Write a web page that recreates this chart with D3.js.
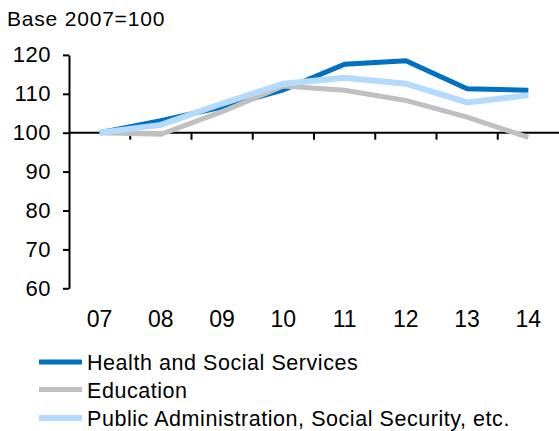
<!DOCTYPE html>
<html><head><meta charset="utf-8">
<script src="https://cdn.jsdelivr.net/npm/d3@7"></script>
<style>body{margin:0;background:#fff}svg{display:block}text{font-family:Arial,"Liberation Sans",sans-serif;fill:#000}</style>
</head><body><svg id="c" width="559" height="431"></svg>
<script>
const categories = ["07","08","09","10","11","12","13","14"];
const health = [100, 103.1, 106.6, 111.0, 117.6, 118.5, 111.3, 110.9];
const education = [100, 99.6, 105.4, 112.0, 110.9, 108.3, 104.0, 98.8];
const publicAdmin = [100, 102.0, 107.5, 112.6, 114.1, 112.6, 107.8, 109.6];
const yTicks = [60, 70, 80, 90, 100, 110, 120];
const seriesNames = ["Health and Social Services", "Education", "Public Administration, Social Security, etc."];
const titleText = "Base 2007=100";

const series = [
  {name: seriesNames[0], values: health, color: "#0070C0", width: 5},
  {name: seriesNames[1], values: education, color: "#C0C0C0", width: 5},
  {name: seriesNames[2], values: publicAdmin, color: "#B4DAFE", width: 6}
];

const svg = d3.select("#c");
const x = d3.scaleBand().domain(categories).range([69, 559]);
const y = d3.scaleLinear().domain([60, 120]).range([288.3, 54.9]);

svg.append("text").attr("x", 7).attr("y", 26).attr("font-size", 21).attr("letter-spacing", 0.8).text(titleText);

// Y axis
const yAxis = d3.axisLeft(y).tickValues(yTicks).tickSize(6).tickPadding(12).tickSizeOuter(0);
const gy = svg.append("g").attr("transform", "translate(69,0)").call(yAxis);
gy.select(".domain").attr("stroke", "#000").attr("stroke-width", 2);
gy.selectAll(".tick line").attr("stroke", "#000").attr("stroke-width", 2);
gy.selectAll(".tick text").attr("font-size", 22).attr("letter-spacing", 0.5)
  .attr("font-family", "Arial, 'Liberation Sans', sans-serif").attr("fill", "#000");

// X axis line at 100 with ticks between categories
const gx = svg.append("g").attr("transform", `translate(0,${y(100)})`);
gx.append("line").attr("x1", 69).attr("x2", 559).attr("stroke", "#000").attr("stroke-width", 2);
const bounds = categories.slice(1).map(c => x(c));
gx.selectAll("line.tk").data(bounds).join("line").attr("class", "tk")
  .attr("x1", d => d).attr("x2", d => d).attr("y1", 0).attr("y2", 7)
  .attr("stroke", "#000").attr("stroke-width", 2);

// X labels at bottom
svg.append("g").selectAll("text").data(categories).join("text")
  .attr("x", d => x(d) + x.bandwidth() / 2).attr("y", 327)
  .attr("text-anchor", "middle").attr("font-size", 23).text(d => d);

// Lines
const line = d3.line().x((d, i) => x(categories[i]) + x.bandwidth() / 2).y(d => y(d));
svg.append("g").selectAll("path").data(series).join("path")
  .attr("d", d => line(d.values)).attr("fill", "none")
  .attr("stroke", d => d.color).attr("stroke-width", d => d.width)
  .attr("stroke-linejoin", "miter");

// Legend
const legY = [362, 389.5, 418];
const lg = svg.append("g").selectAll("g").data(series).join("g")
  .attr("transform", (d, i) => `translate(0,${legY[i]})`);
lg.append("line").attr("x1", 39).attr("x2", 82).attr("y1", 0).attr("y2", 0)
  .attr("stroke", d => d.color).attr("stroke-width", d => d.width);
lg.append("text").attr("x", 87).attr("y", 8).attr("font-size", 21.5).attr("letter-spacing", 0.55).text(d => d.name);
</script></body></html>
